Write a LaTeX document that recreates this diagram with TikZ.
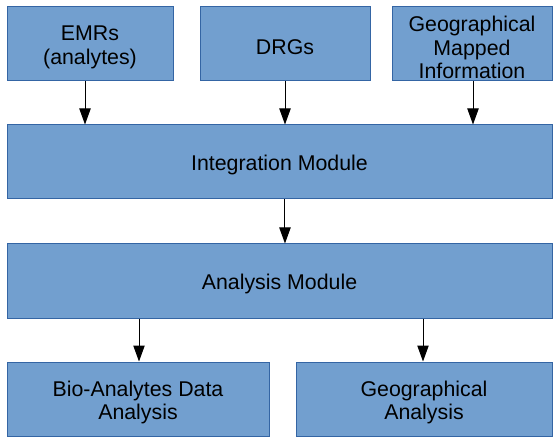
\documentclass[tikz,border=0pt]{standalone}
\usepackage{fontspec}
\setmainfont{Liberation Sans}
\usetikzlibrary{arrows.meta}
\definecolor{boxfill}{HTML}{729FCF}
\definecolor{boxline}{HTML}{3465A4}

\begin{document}
\begin{tikzpicture}[x = .75pt, y = -.75pt,
	modbox/.style = {draw = boxline, fill = boxfill, line width = .75pt, minimum height = 55.5pt, inner sep = 0pt},
	modtext/.style = {align = center, inner sep = 0pt, yshift = -2.6pt, font = \fontsize{16}{17.6}\selectfont},
	flow/.style = {-{Triangle[length = 12pt, width = 8.5pt]}, line width = .75pt}]
	\useasboundingbox (0,0) rectangle (553,438);
	\node[modbox, minimum width = 124.5pt, label = {[modtext]center:EMRs\\(analytes)}] (emr) at (90,44) {};
	\node[modbox, minimum width = 127.5pt, label = {[modtext]center:DRGs}] (drg) at (285,44) {};
	\node[modbox, minimum width = 120pt, label = {[modtext]center:Geographical\\Mapped\\Information}] (geomap) at (472,44) {};
	\node[modbox, minimum width = 408.75pt, label = {[modtext]center:Integration Module}] (integ) at (279.5,162) {};
	\node[modbox, minimum width = 408.75pt, label = {[modtext]center:Analysis Module}] (anal) at (279.5,281) {};
	\node[modbox, minimum width = 196.5pt, label = {[modtext]center:Bio-Analytes Data\\Analysis}] (bio) at (138,399) {};
	\node[modbox, minimum width = 192pt, label = {[modtext]center:Geographical\\Analysis}] (geoanal) at (424,399) {};
%
	\draw[flow] ([xshift = -3.75pt]emr.south) -- ([xshift = -3.75pt]emr.south |- integ.north);
	\draw[flow] (drg.south) -- (drg.south |- integ.north);
	\draw[flow] ([xshift = .75pt]geomap.south) -- ([xshift = .75pt]geomap.south |- integ.north);
	\draw[flow] ([xshift = 4.1pt]integ.south) -- ([xshift = 4.1pt]integ.south |- anal.north);
	\draw[flow] ([xshift = .75pt]bio.north |- anal.south) -- ([xshift = .75pt]bio.north);
	\draw[flow] ([xshift = -.75pt]geoanal.north |- anal.south) -- ([xshift = -.75pt]geoanal.north);
\end{tikzpicture}
\end{document}
